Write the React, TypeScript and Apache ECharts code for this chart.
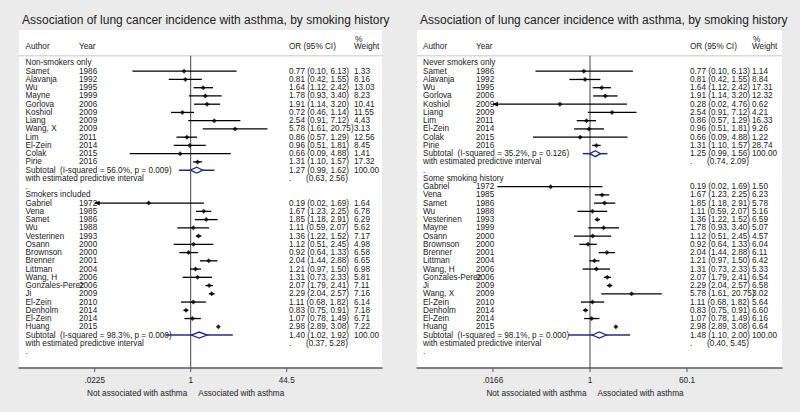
import React, { useEffect, useRef } from "react";
import * as echarts from "echarts";

const TITLE = "Association of lung cancer incidence with asthma, by smoking history";
const FONT = "'Liberation Sans', Arial, Helvetica, sans-serif";

// ---------- Left panel ----------
const L1_label = "Non-smokers only";
const L1_authors = ["Samet", "Alavanja", "Wu", "Mayne", "Gorlova", "Koshiol", "Liang", "Wang, X", "Lim", "El-Zein", "Colak", "Pirie"];
const L1_years = [1986, 1992, 1995, 1999, 2006, 2009, 2009, 2009, 2011, 2014, 2015, 2016];
const L1_or = [0.77, 0.81, 1.64, 1.78, 1.91, 0.72, 2.54, 5.78, 0.86, 0.96, 0.66, 1.31];
const L1_lo = [0.10, 0.42, 1.12, 0.93, 1.14, 0.46, 0.91, 1.61, 0.57, 0.51, 0.09, 1.10];
const L1_hi = [6.13, 1.55, 2.42, 3.40, 3.20, 1.14, 7.12, 20.75, 1.29, 1.81, 4.88, 1.57];
const L1_w = [1.33, 8.16, 13.03, 8.23, 10.41, 11.55, 4.43, 3.13, 12.56, 8.45, 1.41, 17.32];
const L1_sub = [1.27, 0.99, 1.62];
const L1_pi = [0.63, 2.56];
const L1_het = ["56.0%", "0.009"];

const L2_label = "Smokers included";
const L2_authors = ["Gabriel", "Vena", "Samet", "Wu", "Vesterinen", "Osann", "Brownson", "Brenner", "Littman", "Wang, H", "Gonzales-Perez", "Ji", "El-Zein", "Denholm", "El-Zein", "Huang"];
const L2_years = [1972, 1985, 1986, 1988, 1993, 2000, 2000, 2001, 2004, 2006, 2006, 2009, 2010, 2014, 2014, 2015];
const L2_or = [0.19, 1.67, 1.85, 1.11, 1.36, 1.12, 0.92, 2.04, 1.21, 1.31, 2.07, 2.29, 1.11, 0.83, 1.07, 2.98];
const L2_lo = [0.02, 1.23, 1.18, 0.59, 1.22, 0.51, 0.64, 1.44, 0.97, 0.73, 1.79, 2.04, 0.68, 0.75, 0.78, 2.89];
const L2_hi = [1.69, 2.25, 2.91, 2.07, 1.52, 2.45, 1.33, 2.88, 1.50, 2.33, 2.41, 2.57, 1.82, 0.91, 1.49, 3.08];
const L2_w = [1.64, 6.78, 6.29, 5.62, 7.17, 4.98, 6.58, 6.65, 6.98, 5.81, 7.11, 7.16, 6.14, 7.18, 6.71, 7.22];
const L2_sub = [1.40, 1.02, 1.92];
const L2_pi = [0.37, 5.28];
const L2_het = ["98.3%", "0.000"];

const L_ticks = [0.0225, 1, 44.5];
const L_tickLabels = [".0225", "1", "44.5"];

// ---------- Right panel ----------
const R1_label = "Never smokers only";
const R1_authors = ["Samet", "Alavanja", "Wu", "Gorlova", "Koshiol", "Liang", "Lim", "El-Zein", "Colak", "Pirie"];
const R1_years = [1986, 1992, 1995, 2006, 2009, 2009, 2011, 2014, 2015, 2016];
const R1_or = [0.77, 0.81, 1.64, 1.91, 0.28, 2.54, 0.86, 0.96, 0.66, 1.31];
const R1_lo = [0.10, 0.42, 1.12, 1.14, 0.016, 0.91, 0.57, 0.51, 0.09, 1.10];
const R1_hi = [6.13, 1.55, 2.42, 3.20, 4.76, 7.12, 1.29, 1.81, 4.88, 1.57];
const R1_w = [1.14, 8.84, 17.31, 12.32, 0.62, 4.21, 16.33, 9.26, 1.22, 28.74];
const R1_sub = [1.25, 0.99, 1.56];
const R1_pi = [0.74, 2.09];
const R1_het = ["35.2%", "0.126"];

const R2_label = "Some smoking history";
const R2_authors = ["Gabriel", "Vena", "Samet", "Wu", "Vesterinen", "Mayne", "Osann", "Brownson", "Brenner", "Littman", "Wang, H", "Gonzales-Perez", "Ji", "Wang, X", "El-Zein", "Denholm", "El-Zein", "Huang"];
const R2_years = [1972, 1985, 1986, 1988, 1993, 1999, 2000, 2000, 2001, 2004, 2006, 2006, 2009, 2009, 2010, 2014, 2014, 2015];
const R2_or = [0.19, 1.67, 1.85, 1.11, 1.36, 1.78, 1.12, 0.92, 2.04, 1.21, 1.31, 2.07, 2.29, 5.78, 1.11, 0.83, 1.07, 2.98];
const R2_lo = [0.02, 1.23, 1.18, 0.59, 1.22, 0.93, 0.51, 0.64, 1.44, 0.97, 0.73, 1.79, 2.04, 1.61, 0.68, 0.75, 0.78, 2.89];
const R2_hi = [1.69, 2.25, 2.91, 2.07, 1.52, 3.40, 2.45, 1.33, 2.88, 1.50, 2.33, 2.41, 2.57, 20.75, 1.82, 0.91, 1.49, 3.08];
const R2_w = [1.50, 6.23, 5.78, 5.16, 6.59, 5.07, 4.57, 6.04, 6.11, 6.42, 5.33, 6.54, 6.58, 3.02, 5.64, 6.60, 6.16, 6.64];
const R2_sub = [1.48, 1.10, 2.00];
const R2_pi = [0.40, 5.45];
const R2_het = ["98.1%", "0.000"];

const R_ticks = [0.0166, 1, 60.1];
const R_tickLabels = [".0166", "1", "60.1"];

const HEADERS = ["Author", "Year", "OR (95% CI)", "%", "Weight"];
const AXIS_LEFT_LABEL = "Not associated with asthma";
const AXIS_RIGHT_LABEL = "Associated with asthma";

type Row = {
  kind: "group" | "study" | "sub" | "pi" | "dot";
  label?: string;
  author?: string;
  year?: number;
  or?: number;
  lo?: number;
  hi?: number;
  w?: number;
  pilo?: number;
  pihi?: number;
};

function buildGroup(label: string, authors: string[], years: number[], or: number[], lo: number[], hi: number[], w: number[], sub: number[], pi: number[], het: string[]): Row[] {
  const rows: Row[] = [{ kind: "group", label }];
  authors.forEach((a, i) => rows.push({ kind: "study", author: a, year: years[i], or: or[i], lo: lo[i], hi: hi[i], w: w[i] }));
  rows.push({ kind: "sub", label: `Subtotal\u00a0\u00a0(I-squared = ${het[0]}, p = ${het[1]})`, or: sub[0], lo: sub[1], hi: sub[2], w: 100, pilo: pi[0], pihi: pi[1] });
  rows.push({ kind: "pi", label: "with estimated predictive interval", pilo: pi[0], pihi: pi[1] });
  rows.push({ kind: "dot", label: "." });
  return rows;
}

const leftRows = [
  ...buildGroup(L1_label, L1_authors, L1_years, L1_or, L1_lo, L1_hi, L1_w, L1_sub, L1_pi, L1_het),
  ...buildGroup(L2_label, L2_authors, L2_years, L2_or, L2_lo, L2_hi, L2_w, L2_sub, L2_pi, L2_het),
];
const rightRows = [
  ...buildGroup(R1_label, R1_authors, R1_years, R1_or, R1_lo, R1_hi, R1_w, R1_sub, R1_pi, R1_het),
  ...buildGroup(R2_label, R2_authors, R2_years, R2_or, R2_lo, R2_hi, R2_w, R2_sub, R2_pi, R2_het),
];

const f2 = (v: number) => v.toFixed(2);
const ciText = (r: Row) => `${f2(r.or!)} (${f2(r.lo!)}, ${f2(r.hi!)})`;

type Panel = {
  rows: Row[];
  ticks: number[];
  tickLabels: string[];
  left: number;
  right: number;
  onePx: number;
  pxPerLn: number;
  cols: { author: number; year: number; or: number; w: number };
};

const panels: Panel[] = [
  { rows: leftRows, ticks: L_ticks, tickLabels: L_tickLabels, left: 19, right: 382, onePx: 190.7, pxPerLn: 25.3, cols: { author: 6.5, year: 60, or: 270, w: 335 } },
  { rows: rightRows, ticks: R_ticks, tickLabels: R_tickLabels, left: 417, right: 782, onePx: 590, pxPerLn: 23.68, cols: { author: 6, year: 59, or: 273, w: 335 } },
];

const ROW_MIN = -4;
const ROW_MAX = 37;
const SEP_ROW = -0.88;
const TXT = "#222";
const NAVY = "#1f2c8a";
const FS = 8.2;

function txt(x: number, y: number, text: string, align: string = "left", fs: number = FS) {
  return {
    type: "text",
    x,
    y,
    style: { text, fill: TXT, fontSize: fs, fontFamily: FONT, align, verticalAlign: "middle" },
  };
}

function buildOption() {
  const grid: any[] = [];
  const xAxis: any[] = [];
  const yAxis: any[] = [];
  const series: any[] = [];
  const graphic: any[] = [];

  panels.forEach((p, pi) => {
    grid.push({
      left: p.left,
      width: p.right - p.left,
      top: 30,
      height: 338,
      show: true,
      backgroundColor: "#ffffff",
      borderWidth: 0,
    });
    xAxis.push({
      type: "log",
      gridIndex: pi,
      min: Math.exp((p.left - p.onePx) / p.pxPerLn),
      max: Math.exp((p.right - p.onePx) / p.pxPerLn),
      axisLine: { show: true, onZero: false, lineStyle: { color: "#5a5a5a", width: 1.5 } },
      axisTick: { show: false },
      axisLabel: { show: false },
      splitLine: { show: false },
    });
    yAxis.push({
      type: "value",
      gridIndex: pi,
      inverse: true,
      min: ROW_MIN,
      max: ROW_MAX,
      show: false,
    });

    const rows = p.rows;
    const clipMin = p.ticks[0];
    const clipMax = p.ticks[p.ticks.length - 1];

    // rows: texts, CI lines, subtotal diamonds
    series.push({
      type: "custom",
      xAxisIndex: pi,
      yAxisIndex: pi,
      clip: false,
      z: 2,
      data: rows.map((r, i) => [1, i]),
      renderItem: (params: any, api: any) => {
        const i = params.dataIndex;
        const r = rows[i];
        const cs = params.coordSys;
        const y = api.coord([1, i])[1];
        const c = p.cols;
        const ch: any[] = [];
        if (r.kind === "group" || r.kind === "dot") {
          ch.push(txt(cs.x + c.author, y, r.label!));
        } else if (r.kind === "study") {
          ch.push(txt(cs.x + c.author, y, r.author!));
          ch.push(txt(cs.x + c.year, y, String(r.year)));
          ch.push(txt(cs.x + c.or, y, ciText(r)));
          ch.push(txt(cs.x + c.w, y, f2(r.w!)));
          const lo = Math.max(r.lo!, clipMin);
          const hi = Math.min(r.hi!, clipMax);
          const xa = api.coord([lo, i])[0];
          const xb = api.coord([hi, i])[0];
          ch.push({ type: "line", shape: { x1: xa, y1: y, x2: xb, y2: y }, style: { stroke: "#000", lineWidth: 1.3 } });
          if (r.lo! < clipMin) {
            ch.push({ type: "polygon", shape: { points: [[xa - 0.5, y], [xa + 5, y - 2.4], [xa + 5, y + 2.4]] }, style: { fill: "#000" } });
          }
        } else if (r.kind === "sub") {
          ch.push(txt(cs.x + c.author, y, r.label!));
          ch.push(txt(cs.x + c.or, y, ciText(r)));
          ch.push(txt(cs.x + c.w, y, f2(r.w!)));
          const pa = api.coord([r.pilo!, i])[0];
          const pb = api.coord([r.pihi!, i])[0];
          ch.push({ type: "line", shape: { x1: pa, y1: y, x2: pb, y2: y }, style: { stroke: NAVY, lineWidth: 1.5 } });
          const xl = api.coord([r.lo!, i])[0];
          const xm = api.coord([r.or!, i])[0];
          const xr = api.coord([r.hi!, i])[0];
          ch.push({ type: "polygon", shape: { points: [[xl, y], [xm, y - 3], [xr, y], [xm, y + 3]] }, style: { fill: "#fff", stroke: NAVY, lineWidth: 1.3 } });
        } else if (r.kind === "pi") {
          ch.push(txt(cs.x + c.author, y, r.label!));
          ch.push(txt(cs.x + c.or, y, "."));
          ch.push(txt(cs.x + c.or + 17, y, `(${f2(r.pilo!)}, ${f2(r.pihi!)})`));
        }
        return { type: "group", children: ch };
      },
    });

    // point estimates
    series.push({
      type: "scatter",
      xAxisIndex: pi,
      yAxisIndex: pi,
      z: 3,
      symbol: "diamond",
      symbolSize: 5,
      itemStyle: { color: "#000" },
      data: rows.map((r, i) => (r.kind === "study" ? [r.or, i] : null)).filter((d) => d !== null),
    });

    // frame: header, reference line, ticks, labels
    series.push({
      type: "custom",
      xAxisIndex: pi,
      yAxisIndex: pi,
      clip: false,
      z: 1,
      data: [[1, 0]],
      renderItem: (params: any, api: any) => {
        const cs = params.coordSys;
        const c = p.cols;
        const x1 = api.coord([1, 0])[0];
        const ySep = api.coord([1, SEP_ROW])[1];
        const yBot = cs.y + cs.height;
        const yHdr = api.coord([1, -1.94])[1];
        const yPct = api.coord([1, -2.88])[1];
        const ch: any[] = [
          { type: "line", shape: { x1: cs.x, y1: ySep, x2: cs.x + cs.width, y2: ySep }, style: { stroke: "#d9d9d9", lineWidth: 1.5 } },
          { type: "line", shape: { x1: x1, y1: ySep, x2: x1, y2: yBot }, style: { stroke: "#444", lineWidth: 1 } },
          txt(cs.x + c.author, yHdr, HEADERS[0]),
          txt(cs.x + c.year, yHdr, HEADERS[1]),
          txt(cs.x + c.or, yHdr, HEADERS[2]),
          txt(cs.x + c.w + 1, yPct, HEADERS[3]),
          txt(cs.x + c.w, yHdr, HEADERS[4]),
        ];
        p.ticks.forEach((v, k) => {
          const tx = api.coord([v, 0])[0];
          ch.push({ type: "line", shape: { x1: tx, y1: yBot, x2: tx, y2: yBot + 4 }, style: { stroke: "#5a5a5a", lineWidth: 1 } });
          ch.push(txt(tx, yBot + 12, p.tickLabels[k], "center"));
        });
        ch.push(txt(x1 - 3.5, yBot + 25, AXIS_LEFT_LABEL, "right"));
        ch.push(txt(x1 + 7.5, yBot + 25, AXIS_RIGHT_LABEL, "left"));
        return { type: "group", children: ch };
      },
    });

    graphic.push({
      type: "text",
      left: p.left + 3,
      top: 14,
      style: { text: TITLE, fill: TXT, fontSize: 12, fontFamily: FONT },
    });
  });

  return {
    animation: false,
    backgroundColor: "#ebebeb",
    grid,
    xAxis,
    yAxis,
    series,
    graphic,
  };
}

export default function App() {
  const ref = useRef<HTMLDivElement>(null);
  useEffect(() => {
    if (!ref.current) return;
    const chart = echarts.init(ref.current, undefined, { renderer: "svg" });
    chart.setOption(buildOption() as any);
    return () => chart.dispose();
  }, []);
  return <div ref={ref} style={{ position: "fixed", left: 0, top: 0, width: 800, height: 412 }} />;
}
